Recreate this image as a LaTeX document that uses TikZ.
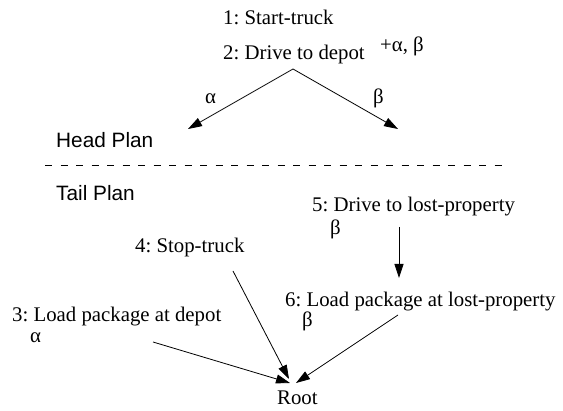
\documentclass[tikz,border=0pt]{standalone}
\usepackage{fontspec}
\setmainfont{Liberation Serif}
\setsansfont{Liberation Sans}
\usetikzlibrary{arrows.meta}
\frenchspacing
\begin{document}
\begin{tikzpicture}[x=1pt,y=-1pt,
  lbl/.style={inner sep=0pt,anchor=base west,font=\fontsize{20.8}{25}\selectfont},
  sec/.style={inner sep=0pt,anchor=base west,font=\sffamily\fontsize{20.8}{25}\selectfont},
  link/.style={line width=0.8pt,-{Triangle[length=14pt,width=9pt]}},
  divider/.style={line width=0.8pt,dash pattern=on 7pt off 8.5pt}]
\useasboundingbox (0,0) rectangle (563,411);

% head plan
\node[lbl] (s1) at (223,25) {1: Start-truck};
\node[lbl] (s2) at (223,60) {2: Drive to depot};
\node[lbl] (hb) at (380,52) {+α, β};
\node[lbl] (la) at (205,104) {α};
\node[lbl] (lb) at (373,104) {β};
\coordinate (apex) at (293,69);
\coordinate (hl) at (188,129);
\coordinate (hr) at (398,129);
\draw[link] (apex) -- (hl);
\draw[link] (apex) -- (hr);

% section labels and divider
\node[sec] (head) at (56,148) {Head Plan};
\node[sec] (tail) at (56,201) {Tail Plan};
\coordinate (dl) at (45,165);
\coordinate (dr) at (508,165);
\draw[divider] (dl) -- (dr);

% tail plan
\node[lbl] (s5) at (312,212) {5: Drive to lost-property};
\node[lbl] (b5) at (330,235) {β};
\node[lbl] (s4) at (135,253) {4: Stop-truck};
\node[lbl] (s6) at (285,307) {6: Load package at lost-property};
\node[lbl] (b6) at (302,327) {β};
\node[lbl] (s3) at (12,322) {3: Load package at depot};
\node[lbl] (a3) at (30,343) {α};
\node[lbl] (root) at (277,405) {Root};

\coordinate (a5s) at (399,227);
\coordinate (a5e) at (399,278);
\coordinate (a4s) at (233,271);
\coordinate (a4e) at (289,379);
\coordinate (a3s) at (153,342);
\coordinate (a3e) at (290,383);
\coordinate (a6s) at (398,315);
\coordinate (a6e) at (296,383);
\draw[link] (a5s) -- (a5e);
\draw[link] (a4s) -- (a4e);
\draw[link] (a3s) -- (a3e);
\draw[link] (a6s) -- (a6e);
\end{tikzpicture}
\end{document}
